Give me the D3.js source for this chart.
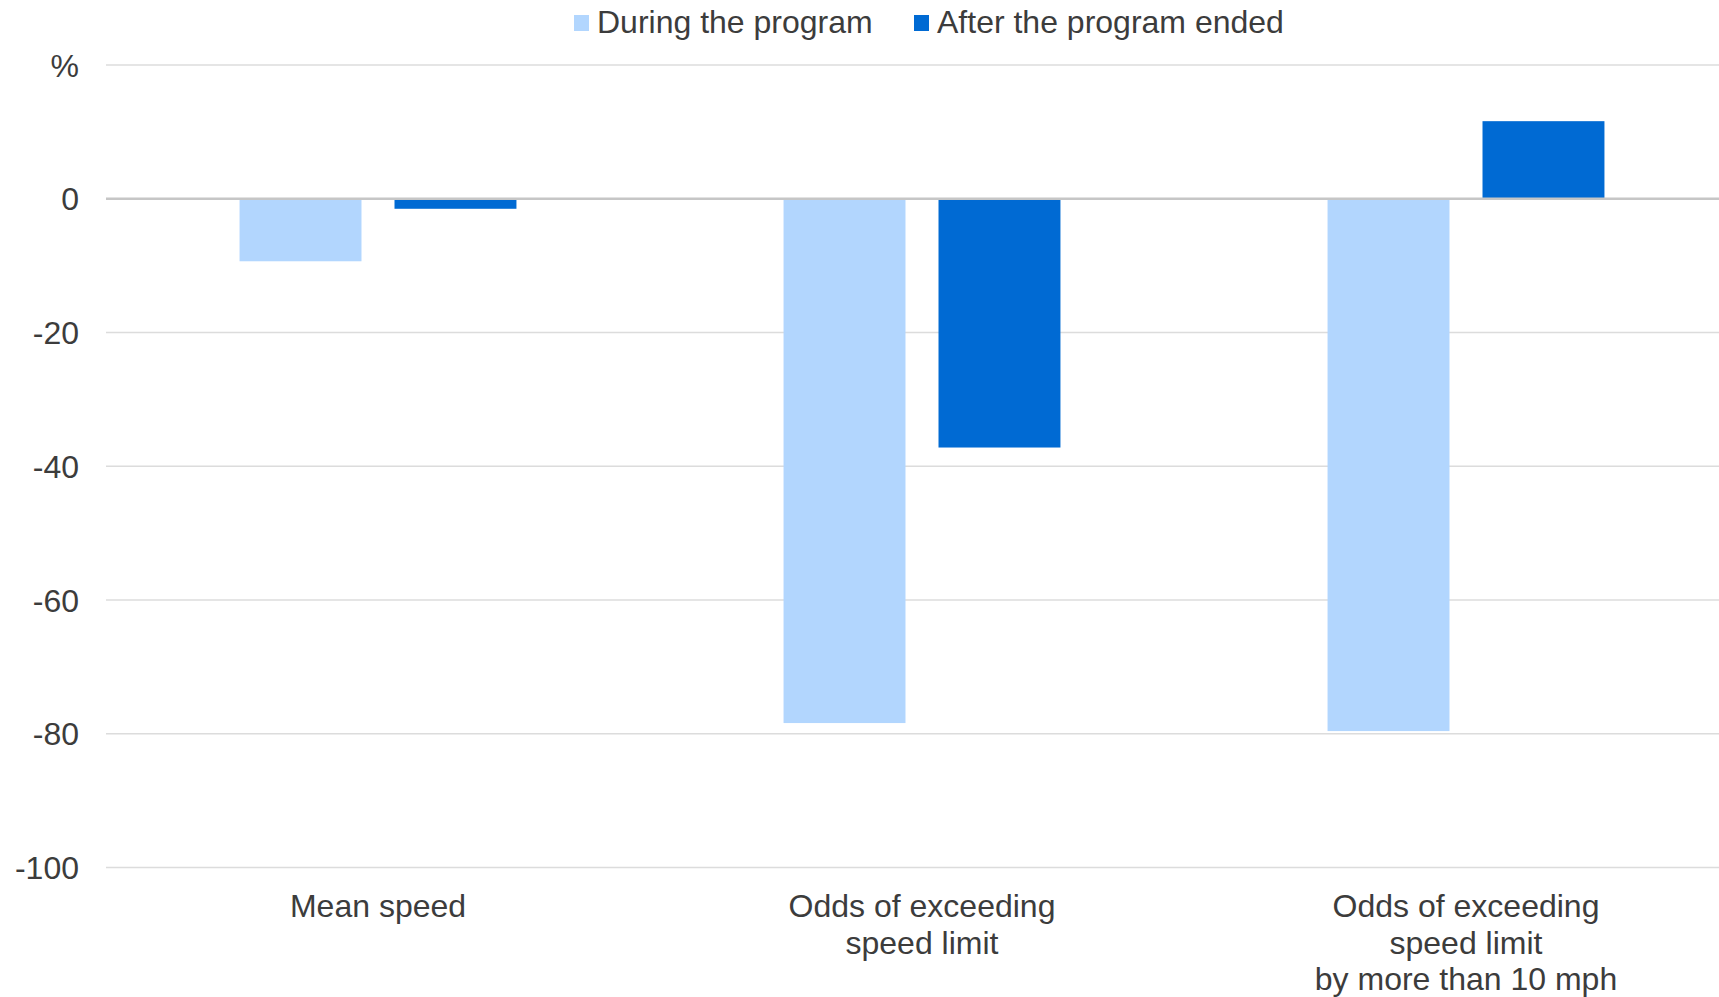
<!DOCTYPE html>
<html>
<head>
<meta charset="utf-8">
<script src="https://cdn.jsdelivr.net/npm/d3@7"></script>
<style>
  html, body { margin: 0; padding: 0; background: #fff; overflow: hidden; }
  svg { display: block; font-family: "Liberation Sans", Arial, sans-serif; }
</style>
</head>
<body>
<svg id="chart" width="1719" height="997"></svg>
<script>
// Change in speeding measures, in percent
const categories = [
  ["Mean speed"],
  ["Odds of exceeding", "speed limit"],
  ["Odds of exceeding", "speed limit", "by more than 10 mph"]
];
const seriesNames = ["During the program", "After the program ended"];
const duringValues = [-9.35, -78.4, -79.6];
const afterValues = [-1.5, -37.2, 11.6];
const yTicks = [20, 0, -20, -40, -60, -80, -100];
const yTickLabels = ["%", "0", "-20", "-40", "-60", "-80", "-100"];
const colors = ["#b2d6fe", "#006ad3"];

const svg = d3.select("#chart");
const textColor = "#3c3c3c";
const fontSize = 32;

const plot = { left: 106, right: 1738, top: 65, bottom: 867.5 };

const y = d3.scaleLinear().domain([-100, 20]).range([plot.bottom, plot.top]);

const catKeys = categories.map((c, i) => i);
const x0 = d3.scaleBand().domain(catKeys).range([plot.left, plot.right]).padding(0);
const groupWidth = x0.bandwidth() * 0.509;
const x1 = d3.scaleBand().domain(seriesNames).range([0, groupWidth]).paddingInner(0.213).paddingOuter(0);

// Gridlines
svg.append("g")
  .selectAll("line")
  .data(yTicks.filter(t => t !== 0))
  .join("line")
  .attr("x1", plot.left).attr("x2", plot.right)
  .attr("y1", d => y(d)).attr("y2", d => y(d))
  .attr("stroke", "#dcdcdc").attr("stroke-width", 1.5);

// Y axis labels
const yAxis = d3.axisLeft(y)
  .tickValues(yTicks)
  .tickSize(0)
  .tickPadding(0)
  .tickFormat((d, i) => yTickLabels[i]);
const yg = svg.append("g").attr("transform", "translate(79,0)").call(yAxis);
yg.select(".domain").remove();
yg.selectAll("text")
  .attr("font-size", fontSize)
  .attr("font-family", "Liberation Sans, Arial, sans-serif")
  .attr("fill", textColor)
  .attr("dy", "0.35em");

// Bars
const rows = catKeys.map(i => ({ cat: i, values: [duringValues[i], afterValues[i]] }));
const groups = svg.append("g")
  .selectAll("g")
  .data(rows)
  .join("g")
  .attr("transform", d => `translate(${x0(d.cat) + x0.bandwidth() / 2 - groupWidth / 2},0)`);

groups.selectAll("rect")
  .data(d => d.values.map((v, j) => ({ name: seriesNames[j], value: v, j })))
  .join("rect")
  .attr("x", d => x1(d.name))
  .attr("width", x1.bandwidth())
  .attr("y", d => y(Math.max(0, d.value)))
  .attr("height", d => Math.abs(y(d.value) - y(0)))
  .attr("fill", d => colors[d.j]);

// Zero line
svg.append("line")
  .attr("x1", plot.left).attr("x2", plot.right)
  .attr("y1", y(0)).attr("y2", y(0))
  .attr("stroke", "#c6c6c6").attr("stroke-width", 2.5);

// Category labels
const catLabels = svg.append("g")
  .selectAll("text")
  .data(rows)
  .join("text")
  .attr("text-anchor", "middle")
  .attr("font-size", fontSize)
  .attr("fill", textColor)
  .attr("x", d => x0(d.cat) + x0.bandwidth() / 2)
  .attr("y", 917);
catLabels.selectAll("tspan")
  .data(d => categories[d.cat].map(line => ({ line, x: x0(d.cat) + x0.bandwidth() / 2 })))
  .join("tspan")
  .attr("x", d => d.x)
  .attr("dy", (d, i) => i === 0 ? 0 : 36.7)
  .text(d => d.line);

// Legend
const legendItems = [
  { name: seriesNames[0], color: colors[0], x: 574 },
  { name: seriesNames[1], color: colors[1], x: 914 }
];
const legend = svg.append("g")
  .selectAll("g")
  .data(legendItems)
  .join("g")
  .attr("transform", d => `translate(${d.x},0)`);
legend.append("rect")
  .attr("x", 0).attr("y", 15)
  .attr("width", 15).attr("height", 16)
  .attr("fill", d => d.color);
legend.append("text")
  .attr("x", 23).attr("y", 22)
  .attr("dy", "0.35em")
  .attr("font-size", fontSize)
  .attr("fill", textColor)
  .text(d => d.name);
</script>
</body>
</html>
